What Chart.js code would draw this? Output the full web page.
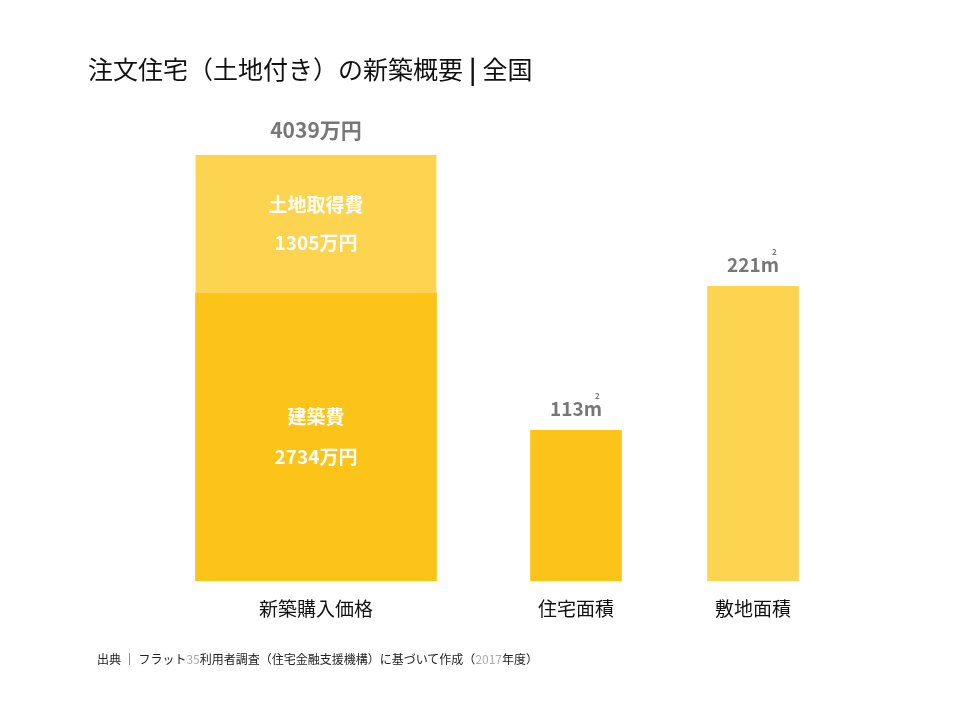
<!DOCTYPE html>
<html><head><meta charset="utf-8">
<script src="https://cdn.jsdelivr.net/npm/chart.js@4"></script>
<style>
body{margin:0;background:#fff;font-family:"Noto Sans CJK JP","Noto Sans",sans-serif;}
#wrap{position:relative;width:960px;height:720px;}
#title{position:absolute;left:88px;top:50px;font-size:25px;color:#111;white-space:nowrap;}
#foot{position:absolute;left:97px;top:650px;font-size:12px;color:#222;white-space:nowrap;}
.g{color:#aaa}
</style></head><body>
<div id="wrap">
<div id="title">注文住宅（土地付き）の新築概要<b style="margin:0 6px">|</b>全国</div>
<div id="foot">出典 ｜ フラット<span class="g">35</span>利用者調査（住宅金融支援機構）に基づいて作成（<span class="g">2017</span>年度）</div>
<canvas id="c" width="960" height="720"></canvas>
</div>
<script>
const categories=["新築購入価格","住宅面積","敷地面積"];
const categoryPos=[316,576,753];
const buildCost=[2734];
const landCost=[1305];
const houseArea=[113];
const landArea=[221];
const C1="#FCC418",C2="#FDD44F";
const chart=new Chart(document.getElementById('c'),{
 type:'bar',
 data:{datasets:[
  {label:'建築費',data:[{x:categoryPos[0],y:buildCost[0]}],backgroundColor:C1,yAxisID:'y',stack:'p',barThickness:241},
  {label:'土地取得費',data:[{x:categoryPos[0],y:landCost[0]}],backgroundColor:C2,yAxisID:'y',stack:'p',barThickness:241,borderColor:'#fff',borderWidth:{bottom:1,top:0,left:0,right:0},borderSkipped:false},
  {label:'住宅面積',data:[{x:categoryPos[1],y:houseArea[0]}],backgroundColor:C1,yAxisID:'y2',stack:'a',barThickness:91},
  {label:'敷地面積',data:[{x:categoryPos[2],y:landArea[0]}],backgroundColor:C2,yAxisID:'y2',stack:'b',barThickness:91}
 ]},
 options:{responsive:false,animation:false,grouped:false,
  datasets:{bar:{grouped:false}},
  layout:{padding:{top:100,bottom:139,left:0,right:0}},
  plugins:{legend:{display:false},tooltip:{enabled:false}},
  scales:{
   x:{type:'linear',min:0,max:960,display:false,offset:false},
   y:{stacked:true,min:0,max:4559,display:false},
   y2:{min:0,max:360.8,display:false}
  }},
 plugins:[{id:'lbl',afterDatasetsDraw(ch){
  const ctx=ch.ctx,x=ch.scales.x,y=ch.scales.y,y2=ch.scales.y2;
  const F='"Noto Sans CJK JP",sans-serif';
  ctx.save();ctx.textAlign='center';ctx.textBaseline='middle';
  const cx=categoryPos.map(p=>x.getPixelForValue(p));
  const total=buildCost[0]+landCost[0];
  ctx.fillStyle='#777';ctx.font='bold 21px '+F;
  ctx.fillText(total+'万円',cx[0],y.getPixelForValue(total)-25);
  ctx.fillStyle='#fff';ctx.font='bold 19px '+F;
  const lm=y.getPixelForValue(buildCost[0]+landCost[0]/2);
  ctx.fillText('土地取得費',cx[0],lm-19);ctx.fillText(landCost[0]+'万円',cx[0],lm+19);
  const bm=y.getPixelForValue(buildCost[0]/2);
  ctx.fillText('建築費',cx[0],bm-20);ctx.fillText(buildCost[0]+'万円',cx[0],bm+20);
  ctx.fillStyle='#777';
  [[houseArea[0],cx[1]],[landArea[0],cx[2]]].forEach(([v,px])=>{
   const py=y2.getPixelForValue(v)-22;
   ctx.font='bold 19px '+F;
   const t=v+'m';const w=ctx.measureText(t).width;
   ctx.textAlign='left';ctx.fillText(t,px-w/2,py);
   ctx.font='bold 8px '+F;ctx.fillText('2',px+w/2-7,py-12);
   ctx.textAlign='center';
  });
  ctx.fillStyle='#111';ctx.font='19px '+F;
  categories.forEach((c,i)=>ctx.fillText(c,cx[i],y.getPixelForValue(0)+28));
  ctx.restore();
 }}]
});
</script></body></html>
